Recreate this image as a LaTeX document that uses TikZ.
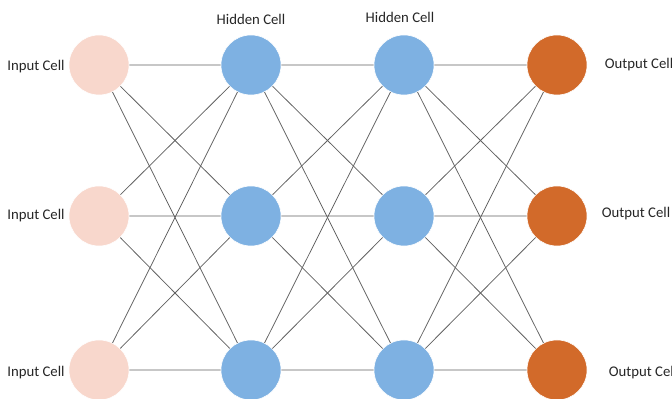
\documentclass[tikz,border=0pt]{standalone}
\usepackage{fontspec}
\setmainfont{Carlito}
\definecolor{incol}{RGB}{248,215,204}
\definecolor{hidcol}{RGB}{126,177,226}
\definecolor{outcol}{RGB}{210,106,42}
\begin{document}
\begin{tikzpicture}[x=0.025cm,y=-0.025cm,
  cell/.style={circle,draw=white,line width=0.4pt,minimum size=1.5cm,inner sep=0pt},
  incell/.style={cell,fill=incol},
  hidcell/.style={cell,fill=hidcol},
  outcell/.style={cell,fill=outcol},
  lbl/.style={font=\fontsize{10.5}{12}\selectfont,text=black!85},
  link/.style={draw=black!62,line width=0.55pt}]
\useasboundingbox (0,0) rectangle (672,399);
\node[incell] at (99,65) (1) {};
\node[incell] at (99,216) (2) {};
\node[incell] at (99,370) (3) {};
\node[hidcell] at (251,65) (A) {};
\node[hidcell] at (251,216) (B) {};
\node[hidcell] at (251,370) (C) {};
\node[hidcell] at (404,65) (D) {};
\node[hidcell] at (404,216) (E) {};
\node[hidcell] at (404,370) (F) {};
\node[outcell] at (557,65) (X) {};
\node[outcell] at (557,216) (Y) {};
\node[outcell] at (557,370) (Z) {};
\node[lbl] at (36,67) (l1) {Input Cell};
\node[lbl] at (36,216) (l2) {Input Cell};
\node[lbl] at (36,373) (l3) {Input Cell};
\node[lbl] at (251,19) (h1) {Hidden Cell};
\node[lbl] at (400,17) (h2) {Hidden Cell};
\node[lbl,anchor=west] at (600,65) (o1) {Output Cell};
\node[lbl,anchor=west] at (597,214) (o2) {Output Cell};
\node[lbl,anchor=west] at (604,373) (o3) {Output Cell};
\draw[link] (1) -- (A) (1) -- (B) (1) -- (C);
\draw[link] (2) -- (A) (2) -- (B) (2) -- (C);
\draw[link] (3) -- (A) (3) -- (B) (3) -- (C);
\draw[link] (A) -- (D) (A) -- (E) (A) -- (F);
\draw[link] (B) -- (D) (B) -- (E) (B) -- (F);
\draw[link] (C) -- (D) (C) -- (E) (C) -- (F);
\draw[link] (D) -- (X) (D) -- (Y) (D) -- (Z);
\draw[link] (E) -- (X) (E) -- (Y) (E) -- (Z);
\draw[link] (F) -- (X) (F) -- (Y) (F) -- (Z);
\end{tikzpicture}
\end{document}
